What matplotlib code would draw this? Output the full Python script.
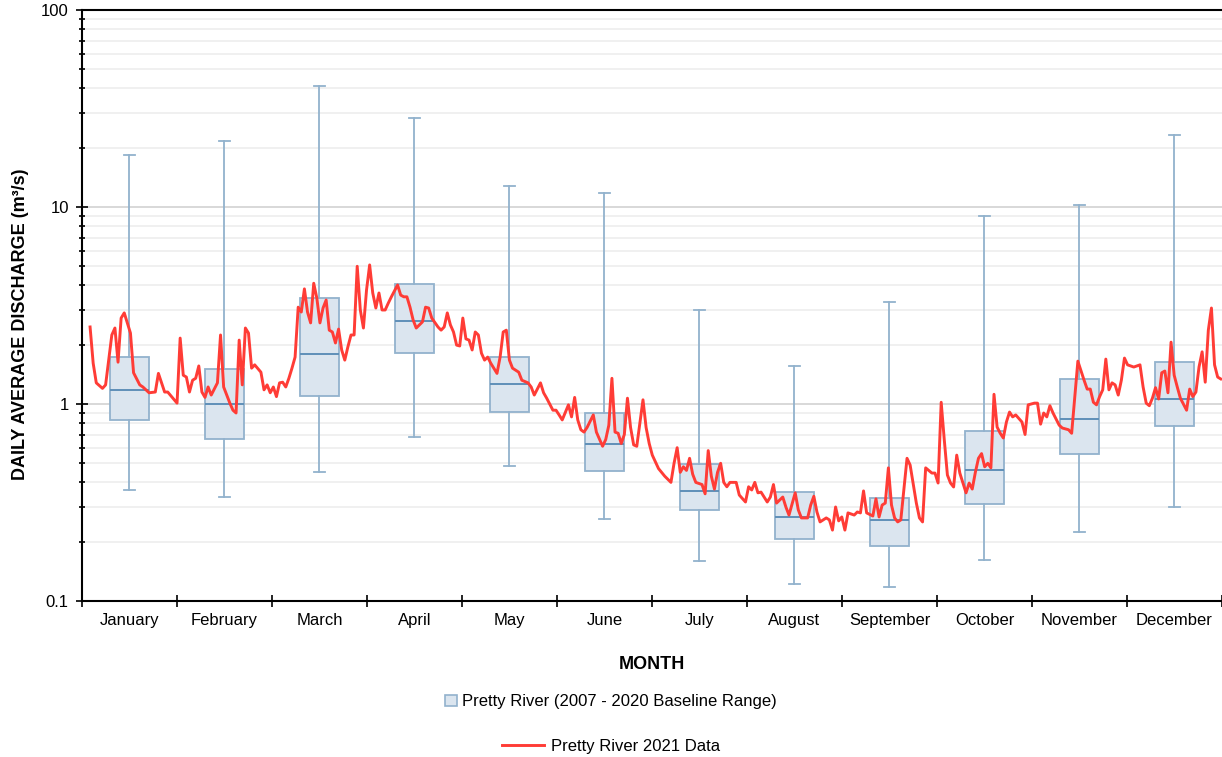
import matplotlib
matplotlib.use("Agg")
import matplotlib.pyplot as plt
from matplotlib.ticker import LogLocator, NullFormatter, FixedLocator
from matplotlib.patches import Patch
from matplotlib.lines import Line2D
import numpy as np

plt.rcParams['font.family'] = ['Liberation Sans', 'DejaVu Sans']

months = ["January", "February", "March", "April", "May", "June", "July",
          "August", "September", "October", "November", "December"]

# Baseline (2007-2020) box statistics per month
whisker_low = [0.366, 0.337, 0.45, 0.68, 0.484, 0.26, 0.16, 0.122, 0.118, 0.161, 0.224, 0.30]
q1 = [0.83, 0.665, 1.10, 1.82, 0.91, 0.459, 0.29, 0.206, 0.19, 0.31, 0.557, 0.773]
median = [1.18, 1.0, 1.79, 2.64, 1.26, 0.627, 0.363, 0.268, 0.258, 0.463, 0.84, 1.06]
q3 = [1.74, 1.50, 3.44, 4.05, 1.74, 0.90, 0.496, 0.359, 0.332, 0.73, 1.34, 1.64]
whisker_high = [18.4, 21.6, 41.0, 28.3, 12.8, 11.8, 3.0, 1.55, 3.3, 9.0, 10.2, 23.2]

# 2021 daily data (day of year, discharge m3/s)
day_2021 = [1, 2, 3, 5, 6, 8, 9, 10, 11, 12, 14, 15, 17, 18, 20, 22, 23, 25, 26, 29,
            30, 31, 32, 33, 34, 35, 36, 37, 38, 39, 40, 42, 43, 44, 46, 47, 48, 49, 50, 51,
            52, 53, 54, 56, 57, 58, 59, 60, 61, 62, 63, 64, 65, 66, 67, 68, 69, 70, 71, 72,
            73, 74, 75, 76, 77, 78, 79, 80, 81, 82, 83, 84, 85, 86, 87, 88, 89, 90, 91, 92,
            93, 94, 95, 96, 97, 98, 100, 101, 102, 103, 104, 105, 106, 108, 109, 110, 111, 113, 114, 115,
            116, 117, 118, 119, 120, 121, 122, 123, 124, 125, 126, 127, 128, 129, 130, 132, 133, 134, 135, 136,
            137, 139, 140, 142, 143, 144, 146, 147, 148, 150, 151, 152, 153, 155, 156, 157, 158, 159, 160, 161,
            163, 164, 166, 167, 168, 169, 170, 171, 172, 173, 174, 175, 176, 177, 179, 180, 181, 182, 184, 186,
            188, 189, 190, 191, 192, 193, 194, 195, 196, 198, 199, 200, 201, 202, 203, 204, 205, 206, 207, 209,
            210, 212, 213, 214, 215, 216, 217, 219, 220, 221, 222, 224, 225, 226, 228, 229, 230, 232, 233, 234,
            235, 236, 238, 239, 240, 241, 242, 243, 244, 245, 247, 248, 249, 250, 251, 253, 254, 255, 256, 257,
            258, 259, 260, 261, 262, 264, 265, 267, 268, 269, 270, 272, 273, 274, 275, 276, 277, 278, 279, 280,
            281, 282, 283, 284, 285, 286, 287, 288, 289, 290, 291, 292, 293, 294, 295, 296, 297, 298, 299, 301,
            302, 303, 305, 306, 307, 308, 309, 310, 311, 313, 314, 316, 317, 318, 319, 321, 322, 323, 324, 325,
            326, 327, 328, 329, 330, 331, 332, 333, 334, 335, 337, 339, 340, 341, 342, 343, 344, 345, 346, 347,
            348, 349, 350, 351, 352, 354, 355, 356, 357, 358, 359, 360, 361, 362, 363, 364, 365]
flow_2021 = [2.46, 1.61, 1.28, 1.20, 1.25, 2.24, 2.43, 1.63, 2.73, 2.90, 2.29, 1.44, 1.25, 1.22, 1.14, 1.15, 1.43, 1.15, 1.15, 1.01,
             2.16, 1.40, 1.37, 1.15, 1.32, 1.35, 1.56, 1.15, 1.08, 1.22, 1.11, 1.28, 2.24, 1.22, 1.01, 0.93, 0.90, 2.11, 1.25, 2.43,
             2.29, 1.52, 1.58, 1.45, 1.18, 1.25, 1.14, 1.22, 1.09, 1.28, 1.29, 1.22, 1.35, 1.52, 1.73, 3.10, 2.93, 3.84, 2.93, 2.58,
             4.10, 3.45, 2.58, 3.07, 3.37, 2.37, 2.32, 2.04, 2.40, 1.88, 1.67, 1.95, 2.24, 2.24, 5.00, 3.00, 2.43, 3.79, 5.08, 3.66,
             3.07, 3.66, 3.00, 3.00, 3.25, 3.50, 4.02, 3.57, 3.50, 3.50, 3.10, 2.67, 2.43, 2.61, 3.10, 3.07, 2.73, 2.46, 2.37, 2.46,
             2.90, 2.52, 2.32, 1.99, 1.97, 2.73, 2.14, 2.11, 1.88, 2.32, 2.24, 1.81, 1.67, 1.73, 1.61, 1.43, 1.73, 2.32, 2.37, 1.67,
             1.52, 1.45, 1.32, 1.28, 1.22, 1.11, 1.28, 1.14, 1.07, 0.93, 0.93, 0.88, 0.83, 0.99, 0.86, 1.08, 0.83, 0.74, 0.72, 0.76,
             0.88, 0.72, 0.61, 0.66, 0.78, 1.35, 0.72, 0.71, 0.63, 0.70, 1.07, 0.76, 0.62, 0.61, 1.05, 0.76, 0.63, 0.55, 0.47, 0.43,
             0.40, 0.50, 0.60, 0.45, 0.48, 0.46, 0.53, 0.44, 0.40, 0.39, 0.35, 0.58, 0.43, 0.37, 0.45, 0.50, 0.40, 0.38, 0.40, 0.40,
             0.345, 0.318, 0.38, 0.366, 0.40, 0.354, 0.357, 0.318, 0.337, 0.39, 0.314, 0.337, 0.30, 0.273, 0.354, 0.29, 0.264, 0.264, 0.307, 0.34,
             0.283, 0.252, 0.264, 0.258, 0.229, 0.30, 0.255, 0.267, 0.229, 0.28, 0.273, 0.283, 0.28, 0.362, 0.28, 0.27, 0.33, 0.267, 0.307, 0.314,
             0.474, 0.307, 0.264, 0.252, 0.258, 0.53, 0.49, 0.314, 0.264, 0.252, 0.474, 0.446, 0.446, 0.397, 1.02, 0.656, 0.436, 0.397, 0.379, 0.55,
             0.446, 0.397, 0.354, 0.397, 0.37, 0.45, 0.53, 0.56, 0.48, 0.50, 0.474, 1.12, 0.764, 0.71, 0.672, 0.81, 0.91, 0.86, 0.88, 0.81,
             0.70, 0.99, 1.01, 1.01, 0.79, 0.90, 0.86, 0.98, 0.90, 0.78, 0.755, 0.74, 0.71, 1.09, 1.65, 1.32, 1.19, 1.19, 1.02, 0.99,
             1.09, 1.18, 1.69, 1.18, 1.28, 1.25, 1.11, 1.32, 1.71, 1.58, 1.54, 1.58, 1.22, 1.01, 0.98, 1.07, 1.21, 1.06, 1.44, 1.47,
             1.14, 2.06, 1.40, 1.22, 1.07, 0.93, 1.19, 1.09, 1.15, 1.54, 1.84, 1.29, 2.37, 3.07, 1.58, 1.37, 1.34]

BOX_FACE = "#dbe5ef"
BOX_EDGE = "#92b2cd"
MED_COL = "#5f8fb8"
RED = "#ff3c36"

fig = plt.figure(figsize=(12.22, 7.57), dpi=100)
ax = fig.add_axes([0.0671, 0.2061, 0.9329, 0.7807])

ax.set_yscale("log")
ax.set_ylim(0.1, 100)
ax.set_xlim(0.5, 12.5)
ax.yaxis.set_major_locator(LogLocator(base=10, numticks=10))
ax.yaxis.set_minor_locator(LogLocator(base=10, subs=np.arange(2, 10), numticks=10))
ax.yaxis.set_minor_formatter(NullFormatter())
ax.grid(True, which="major", axis="y", color="#d2d2d2", linewidth=1.2, zorder=0)
ax.grid(True, which="minor", axis="y", color="#eeeeee", linewidth=1.2, zorder=0)
ax.set_axisbelow(True)

stats = []
for i in range(12):
    stats.append(dict(med=median[i], q1=q1[i], q3=q3[i],
                      whislo=whisker_low[i], whishi=whisker_high[i], fliers=[]))
ax.bxp(stats, positions=np.arange(1, 13), widths=0.41, patch_artist=True,
       showfliers=False,
       boxprops=dict(facecolor=BOX_FACE, edgecolor=BOX_EDGE, linewidth=1.3),
       medianprops=dict(color=MED_COL, linewidth=1.4),
       whiskerprops=dict(color=BOX_EDGE, linewidth=1.3),
       capprops=dict(color=BOX_EDGE, linewidth=1.3),
       capwidths=0.12, zorder=2)

days = np.array(day_2021, dtype=float)
xpos = 0.5 + (days + 1.6) * 12.0 / 367.0
ax.plot(xpos, flow_2021, color=RED, linewidth=2.1, zorder=3, solid_joinstyle="round")

ax.xaxis.set_major_locator(FixedLocator(np.arange(0.5, 13.0, 1.0)))
ax.xaxis.set_minor_locator(FixedLocator(np.arange(1, 13)))
ax.set_xticklabels([""] * 13)
ax.set_xticklabels(months, minor=True)
ax.tick_params(axis="x", which="major", direction="inout", length=9, width=1.2, color="black")
ax.tick_params(axis="x", which="minor", length=0, labelsize=12, pad=9)
ax.tick_params(axis="y", which="major", direction="inout", length=9, width=1.2, labelsize=12, pad=5)
ax.tick_params(axis="y", which="minor", direction="inout", length=5, width=1.2)
ax.set_yticks([0.1, 1, 10, 100])
ax.set_yticklabels(["0.1", "1", "10", "100"])

for s in ["left", "bottom", "top"]:
    ax.spines[s].set_color("black")
    ax.spines[s].set_linewidth(1.5)
ax.spines["right"].set_visible(False)

ax.set_ylabel("DAILY AVERAGE DISCHARGE (m³/s)", fontsize=13, fontweight="bold")
ax.yaxis.set_label_coords(-0.0465, 0.469)
ax.set_xlabel("MONTH", fontsize=13, fontweight="bold", labelpad=20)

h1 = Patch(facecolor=BOX_FACE, edgecolor=BOX_EDGE, linewidth=1.2)
h2 = Line2D([], [], color=RED, linewidth=2.1)
fig.legend([h1], ["Pretty River (2007 - 2020 Baseline Range)"], loc="center",
           bbox_to_anchor=(0.5, 0.0727), frameon=False, fontsize=12,
           handlelength=0.7, handleheight=0.7, handletextpad=0.3)
fig.legend([h2], ["Pretty River 2021 Data"], loc="center",
           bbox_to_anchor=(0.5, 0.0145), frameon=False, fontsize=12,
           handlelength=2.5, handletextpad=0.4)

fig.savefig("out.png", dpi=100)
